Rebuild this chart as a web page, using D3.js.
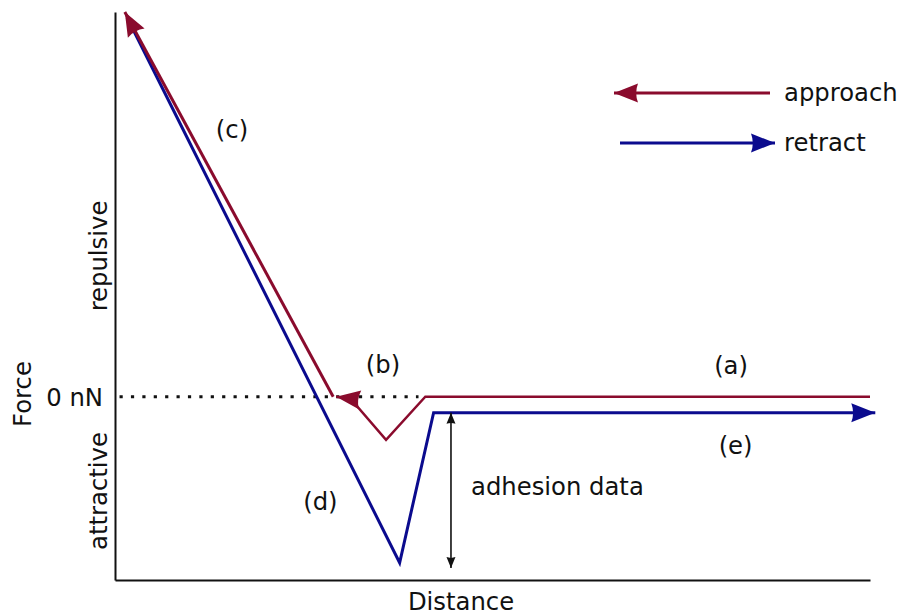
<!DOCTYPE html>
<html>
<head>
<meta charset="utf-8">
<script src="https://cdn.jsdelivr.net/npm/d3@7"></script>
<style>
  body { margin: 0; background: #fff; }
  text { font-family: "DejaVu Sans", sans-serif; font-size: 24.3px; fill: #111; }
</style>
</head>
<body>
<div id="chart"></div>
<script>
// distance (arbitrary units) and force (arbitrary units, 0 = 0 nN)
var approachDist  = [10, 4.11, 3.59, 3.12, 2.93];
var approachForce = [0, 0, -0.235, -0.01, 0];
var contactDist   = [2.89, 0.13];
var contactForce  = [0, 2.1];
var retractDist   = [0.16, 3.77, 4.22, 10.07];
var retractForce  = [2.07, -0.906, -0.087, -0.087];
var adhesionDist  = 4.45;
var adhesionForce = [-0.087, -0.935];
var zeroLineDist  = [0.06, 4.02];

var regionLabels = ["(a)", "(b)", "(c)", "(d)", "(e)"];
var regionDist   = [8.16, 3.55, 1.55, 2.72, 8.22];
var regionForce  = [0.125, 0.13, 1.41, -0.62, -0.31];
var legendNames  = ["approach", "retract"];

function chart() {
    var width = 903;
    var height = 616;
    var red = "#8a0b2d";
    var blue = "#0b0b8e";

    var svg = d3.select('#chart')
      .append('svg')
      .attr('width', width)
      .attr('height', height);

    var x = d3.scaleLinear().domain([0, 10]).range([115, 870]);
    var y = d3.scaleLinear().domain([-1, 2.1]).range([580, 12]);

    var defs = svg.append('defs');
    function arrow(id, col, len, wid) {
        defs.append('marker')
          .attr('id', id)
          .attr('markerUnits', 'userSpaceOnUse')
          .attr('viewBox', (-len - 1) + ' ' + (-wid - 1) + ' ' + (len + 2) + ' ' + (2 * wid + 2))
          .attr('markerWidth', len + 2)
          .attr('markerHeight', 2 * wid + 2)
          .attr('refX', 0)
          .attr('refY', 0)
          .attr('orient', 'auto-start-reverse')
          .append('path')
          .attr('d', 'M0,0 L' + (-len) + ',' + (-wid) + ' Q' + (-len * 0.85) + ',0 ' + (-len) + ',' + wid + ' Z')
          .attr('fill', col);
    }
    arrow('arRed', red, 24, 9.5);
    arrow('arBlue', blue, 24, 9.5);
    arrow('arBlack', '#111', 11, 4.5);

    var line = d3.line()
      .x(function(d) { return x(d[0]); })
      .y(function(d) { return y(d[1]); });

    // axes (no ticks, just the frame lines)
    svg.append('g')
      .attr('transform', 'translate(0,' + y(-1) + ')')
      .call(d3.axisBottom(x).ticks(0).tickSizeOuter(0))
      .select('.domain').attr('stroke', '#111').attr('stroke-width', 2);
    svg.append('g')
      .attr('transform', 'translate(' + x(0) + ',0)')
      .call(d3.axisLeft(y).ticks(0).tickSizeOuter(0))
      .select('.domain').attr('stroke', '#111').attr('stroke-width', 2);

    // 0 nN dotted line
    svg.append('path')
      .attr('d', line(zeroLineDist.map(function(d) { return [d, 0]; })))
      .attr('stroke', '#111')
      .attr('stroke-width', 3.2)
      .attr('stroke-dasharray', '3.2,8.2')
      .attr('fill', 'none');

    // retract curve
    svg.append('path')
      .attr('d', line(d3.zip(retractDist, retractForce)))
      .attr('stroke', blue)
      .attr('stroke-width', 3)
      .attr('fill', 'none')
      .attr('marker-end', 'url(#arBlue)');

    // approach curve (far part, jump to contact)
    svg.append('path')
      .attr('d', line(d3.zip(approachDist, approachForce)))
      .attr('stroke', red)
      .attr('stroke-width', 2.4)
      .attr('fill', 'none')
      .attr('marker-end', 'url(#arRed)');

    // approach curve (contact part)
    svg.append('path')
      .attr('d', line(d3.zip(contactDist, contactForce)))
      .attr('stroke', red)
      .attr('stroke-width', 3)
      .attr('fill', 'none')
      .attr('marker-end', 'url(#arRed)');

    // adhesion arrow
    svg.append('path')
      .attr('d', line(adhesionForce.map(function(f) { return [adhesionDist, f]; })))
      .attr('stroke', '#111')
      .attr('stroke-width', 1.6)
      .attr('fill', 'none')
      .attr('marker-start', 'url(#arBlack)')
      .attr('marker-end', 'url(#arBlack)');
    svg.append('text')
      .attr('x', 471)
      .attr('y', 495)
      .text('adhesion data');

    // region labels
    svg.selectAll('.region')
      .data(regionLabels)
      .enter()
      .append('text')
      .attr('class', 'region')
      .attr('x', function(d, i) { return x(regionDist[i]); })
      .attr('y', function(d, i) { return y(regionForce[i]); })
      .attr('text-anchor', 'middle')
      .text(function(d) { return d; });

    // legend
    var leg = svg.append('g');
    var legColors = [red, blue];
    legendNames.forEach(function(name, i) {
        var ly = 93 + i * 50;
        leg.append('line')
          .attr('x1', i === 0 ? 770 : 620)
          .attr('x2', i === 0 ? 614 : 775)
          .attr('y1', ly)
          .attr('y2', ly)
          .attr('stroke', legColors[i])
          .attr('stroke-width', 3)
          .attr('marker-end', i === 0 ? 'url(#arRed)' : 'url(#arBlue)');
        leg.append('text')
          .attr('x', 784)
          .attr('y', ly + 8)
          .text(name);
    });

    // axis labels
    svg.append('text')
      .attr('x', 103)
      .attr('y', y(0) + 9)
      .attr('text-anchor', 'end')
      .text('0 nN');
    svg.append('text')
      .attr('transform', 'translate(31,394) rotate(-90)')
      .attr('text-anchor', 'middle')
      .text('Force');
    svg.append('text')
      .attr('transform', 'translate(107,256) rotate(-90)')
      .attr('text-anchor', 'middle')
      .text('repulsive');
    svg.append('text')
      .attr('transform', 'translate(107,491) rotate(-90)')
      .attr('text-anchor', 'middle')
      .text('attractive');
    svg.append('text')
      .attr('x', 461)
      .attr('y', 610)
      .attr('text-anchor', 'middle')
      .text('Distance');
}

chart();
</script>
</body>
</html>
